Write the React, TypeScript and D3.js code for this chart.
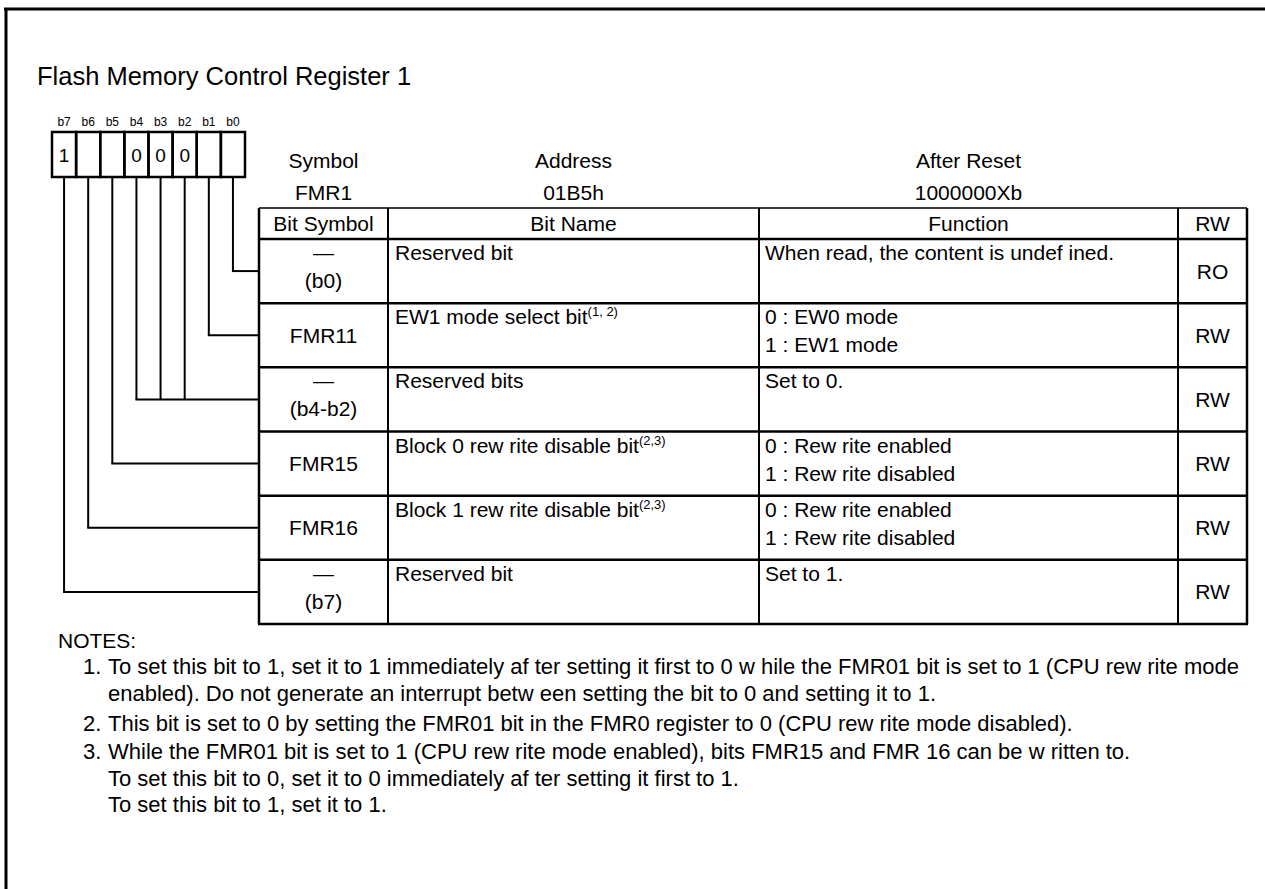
import React from "react";
import * as d3 from "d3";

// ---------- data ----------
const titleText = "Flash Memory Control Register 1";
const bitLabels = ["b7", "b6", "b5", "b4", "b3", "b2", "b1", "b0"];
const bitValues = ["1", "", "", "0", "0", "0", "", ""];
const infoLabels = ["Symbol", "Address", "After Reset"];
const infoValues = ["FMR1", "01B5h", "1000000Xb"];
const columnTitles = ["Bit Symbol", "Bit Name", "Function", "RW"];
const rowSymbols = [["—", "(b0)"], ["FMR11"], ["—", "(b4-b2)"], ["FMR15"], ["FMR16"], ["—", "(b7)"]];
const rowNames = ["Reserved bit", "EW1 mode select bit", "Reserved bits", "Block 0 rew rite disable bit", "Block 1 rew rite disable bit", "Reserved bit"];
const rowNameNotes = ["", "(1, 2)", "", "(2,3)", "(2,3)", ""];
const rowFunctions = [
  ["When read, the content is undef ined."],
  ["0 : EW0 mode", "1 : EW1 mode"],
  ["Set to 0."],
  ["0 : Rew rite enabled", "1 : Rew rite disabled"],
  ["0 : Rew rite enabled", "1 : Rew rite disabled"],
  ["Set to 1."],
];
const rowAccess = ["RO", "RW", "RW", "RW", "RW", "RW"];
const rowBits = [["b0"], ["b1"], ["b4", "b3", "b2"], ["b5"], ["b6"], ["b7"]];
const notesTitle = "NOTES:";
const noteNumbers = ["1.", "2.", "3."];
const noteLines = [
  [
    "To set this bit to 1, set it to 1 immediately af ter setting it first to 0 w hile the FMR01 bit is set to 1 (CPU rew rite mode",
    "enabled). Do not generate an interrupt betw een setting the bit to 0 and setting it to 1.",
  ],
  ["This bit is set to 0 by setting the FMR01 bit in the FMR0 register to 0 (CPU rew rite mode disabled)."],
  [
    "While the FMR01 bit is set to 1 (CPU rew rite mode enabled), bits FMR15 and FMR 16 can be w ritten to.",
    "To set this bit to 0, set it to 0 immediately af ter setting it first to 1.",
    "To set this bit to 1, set it to 1.",
  ],
];

// ---------- layout ----------
const W = 1265;
const H = 889;
const FONT = "'Liberation Sans', Arial, sans-serif";
const FS = 21;
const NFS = 22;

const bitX = d3.scaleBand<string>().domain(bitLabels).range([52, 245]).padding(0);
const boxTop = 132;
const boxBottom = 177;

const colEdges = [259, 388, 759, 1178, 1247];
const headerTop = 208;
const headerBottom = 239;
const rowKeys = rowNames.map((_, i) => String(i));
const rowY = d3.scaleBand<string>().domain(rowKeys).range([headerBottom, 624]).padding(0);

const noteStartY = [674, 731, 759];
const noteLineGap = 26.5;

export default function App() {
  const bw = bitX.bandwidth();
  const cx = (b: string) => (bitX(b) as number) + bw / 2;
  const tableLeft = colEdges[0];
  const tableRight = colEdges[colEdges.length - 1];
  const rowBottom = rowY.range()[1];

  return (
    <svg
      width={W}
      height={H}
      style={{ position: "absolute", left: 0, top: 0, display: "block", background: "#fff" }}
      fontFamily={FONT}
    >
      <rect x={0} y={0} width={W} height={H} fill="#fff" />
      {/* frame */}
      <line x1={4} y1={9} x2={W} y2={9} stroke="#000" strokeWidth={3} />
      <line x1={6} y1={8} x2={6} y2={H} stroke="#000" strokeWidth={3} />

      {/* title */}
      <text x={37} y={85} fontSize={25.5} fill="#000">{titleText}</text>

      {/* bit labels */}
      {bitLabels.map((b) => (
        <text key={"l" + b} x={cx(b)} y={126} fontSize={12} textAnchor="middle">{b}</text>
      ))}
      {/* bit boxes */}
      {bitLabels.map((b, i) => (
        <g key={"c" + b}>
          <rect x={bitX(b)} y={boxTop} width={bw} height={boxBottom - boxTop} fill="none" stroke="#000" strokeWidth={2.5} />
          {bitValues[i] && (
            <text x={cx(b)} y={162} fontSize={19} textAnchor="middle">{bitValues[i]}</text>
          )}
        </g>
      ))}

      {/* connectors */}
      {rowBits.map((bits, i) => {
        const yc = (rowY(String(i)) as number) + rowY.bandwidth() / 2;
        const xs = bits.map(cx);
        const xmin = d3.min(xs) as number;
        return (
          <g key={"k" + i} stroke="#000" strokeWidth={2} fill="none">
            {xs.map((x, j) => (
              <line key={j} x1={x} y1={boxBottom} x2={x} y2={yc} />
            ))}
            <line x1={xmin - 1} y1={yc} x2={tableLeft} y2={yc} />
          </g>
        );
      })}

      {/* info header */}
      {infoLabels.map((lab, i) => {
        const x = (colEdges[i] + colEdges[i + 1]) / 2;
        return (
          <g key={"i" + i}>
            <text x={x} y={168} fontSize={FS} textAnchor="middle">{lab}</text>
            <text x={x} y={200} fontSize={FS} textAnchor="middle">{infoValues[i]}</text>
          </g>
        );
      })}

      {/* table header */}
      <line x1={tableLeft} y1={headerTop} x2={tableRight} y2={headerTop} stroke="#000" strokeWidth={1.5} />
      {columnTitles.map((t, i) => (
        <text key={"h" + i} x={(colEdges[i] + colEdges[i + 1]) / 2} y={231} fontSize={FS} textAnchor="middle">{t}</text>
      ))}

      {/* rows */}
      {rowKeys.map((k, i) => {
        const y0 = rowY(k) as number;
        const yc = y0 + rowY.bandwidth() / 2;
        const sym = rowSymbols[i];
        const symX = (colEdges[0] + colEdges[1]) / 2;
        return (
          <g key={"r" + k}>
            {sym.length === 1 ? (
              <text x={symX} y={yc + 7.5} fontSize={FS} textAnchor="middle">{sym[0]}</text>
            ) : (
              <>
                <text x={symX} y={y0 + 21} fontSize={FS} textAnchor="middle">{sym[0]}</text>
                <text x={symX} y={y0 + 49} fontSize={FS} textAnchor="middle">{sym[1]}</text>
              </>
            )}
            <text x={colEdges[1] + 7} y={y0 + 21} fontSize={FS}>
              {rowNames[i]}
              {rowNameNotes[i] && (
                <tspan fontSize={13} dy={-8}>{rowNameNotes[i]}</tspan>
              )}
            </text>
            {rowFunctions[i].map((ln, j) => (
              <text key={j} x={colEdges[2] + 6} y={y0 + 21 + j * 28} fontSize={FS}>{ln}</text>
            ))}
            <text x={(colEdges[3] + colEdges[4]) / 2} y={yc + 7.5} fontSize={FS} textAnchor="middle">{rowAccess[i]}</text>
          </g>
        );
      })}

      {/* table grid */}
      {rowKeys.map((k) => {
        const y = (rowY(k) as number);
        return <line key={"g" + k} x1={tableLeft - 1} y1={y} x2={tableRight + 1} y2={y} stroke="#000" strokeWidth={2.5} />;
      })}
      <line x1={tableLeft - 1} y1={rowBottom} x2={tableRight + 1} y2={rowBottom} stroke="#000" strokeWidth={2.5} />
      {colEdges.map((x, i) => (
        <line key={"v" + i} x1={x} y1={headerTop} x2={x} y2={rowBottom} stroke="#000" strokeWidth={i === 0 || i === colEdges.length - 1 ? 2.5 : 2} />
      ))}

      {/* notes */}
      <text x={58} y={648} fontSize={NFS - 1}>{notesTitle}</text>
      {noteLines.map((lines, i) => (
        <g key={"n" + i}>
          <text x={83} y={noteStartY[i]} fontSize={NFS}>{noteNumbers[i]}</text>
          {lines.map((ln, j) => (
            <text key={j} x={108} y={noteStartY[i] + j * noteLineGap} fontSize={NFS}>{ln}</text>
          ))}
        </g>
      ))}
    </svg>
  );
}
